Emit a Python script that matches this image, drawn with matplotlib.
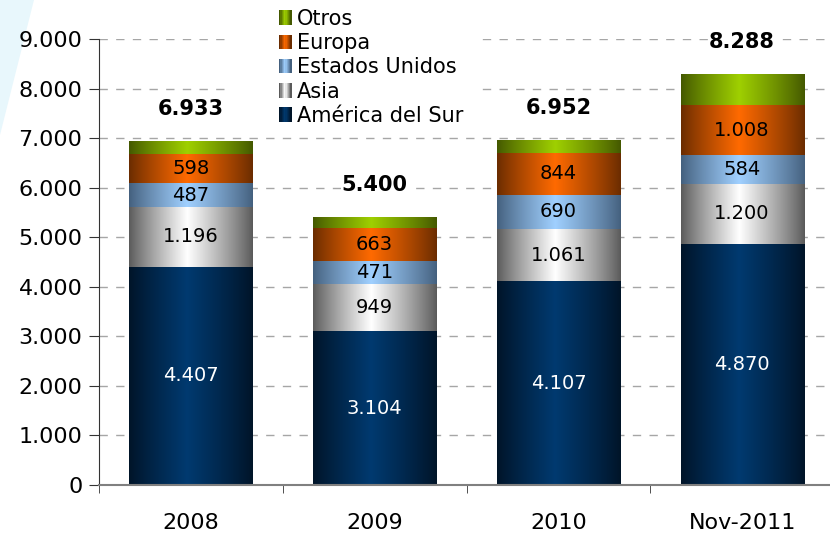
import numpy as np
import matplotlib
matplotlib.use("Agg")
import matplotlib.pyplot as plt
from matplotlib.patches import Rectangle, Polygon
from matplotlib.legend_handler import HandlerBase
from matplotlib.colors import to_rgb

plt.rcParams['font.family'] = ['DejaVu Sans']

categories = ["2008", "2009", "2010", "Nov-2011"]
series_names = ["América del Sur", "Asia", "Estados Unidos", "Europa", "Otros"]
america_sur = [4407, 3104, 4107, 4870]
asia = [1196, 949, 1061, 1200]
estados_unidos = [487, 471, 690, 584]
europa = [598, 663, 844, 1008]
otros = [245, 213, 250, 626]
totals = [6933, 5400, 6952, 8288]
yticks = [0, 1000, 2000, 3000, 4000, 5000, 6000, 7000, 8000, 9000]

series_values = [america_sur, asia, estados_unidos, europa, otros]
center_colors = ["#003a70", "#ffffff", "#a0d0ff", "#ff6a00", "#9fd000"]
edge_colors = ["#001428", "#5a5a5a", "#44607e", "#6a2c00", "#445800"]
label_colors = ["white", "black", "black", "black", None]


def fmt(v):
    return f"{v:,}".replace(",", ".")


def profile(n=200):
    u = np.linspace(0, 1, n)
    peak = 0.47
    t = np.where(u < peak, u / peak, (1 - u) / (1 - peak))
    return np.clip(t, 0, 1) ** 0.9


def gradient_img(c_center, c_edge, n=200):
    t = profile(n)
    cc = np.array(to_rgb(c_center))
    ce = np.array(to_rgb(c_edge))
    row = ce[None, :] + (cc - ce)[None, :] * t[:, None]
    return row[None, :, :]


W, H = 830, 533
fig = plt.figure(figsize=(W / 100, H / 100), dpi=100)
fig.patch.set_facecolor("white")

# decorative light band top-left
fig.patches.append(Polygon([(0, 1), (34 / W, 1), (0, 1 - 135 / H)], closed=True,
                           transform=fig.transFigure, facecolor="#e8f7fc",
                           edgecolor="none", zorder=-5))

ax = fig.add_axes([99 / W, (H - 485) / H, (834 - 99) / W, 446 / H])
ax.patch.set_alpha(0)
x = np.arange(len(categories))
width = 0.67
bottom = np.zeros(len(categories))
for vals, cc, ce, lc in zip(series_values, center_colors, edge_colors, label_colors):
    bars = ax.bar(x, vals, width=width, bottom=bottom, color=cc, linewidth=0, zorder=2)
    img = gradient_img(cc, ce)
    for b, v, bt in zip(bars, vals, bottom):
        x0 = b.get_x()
        im = ax.imshow(img, extent=[x0, x0 + b.get_width(), bt, bt + v],
                       aspect="auto", zorder=2.1, interpolation="bilinear")
        im.set_clip_path(b)
        if lc is not None:
            ax.text(b.get_x() + b.get_width() / 2, bt + v / 2, fmt(v),
                    ha="center", va="center", fontsize=14, color=lc, zorder=3)
    bottom = bottom + np.array(vals)

for xi, tot, top in zip(x, totals, bottom):
    ax.annotate(fmt(tot), (xi, top), xytext=(0, 16), textcoords="offset points",
                ha="center", va="bottom", fontsize=15, fontweight="bold", zorder=4,
                bbox=dict(facecolor="white", edgecolor="none", pad=0.5))

ax.set_xlim(-0.5, 3.5)
ax.set_ylim(0, 9000)
ax.set_aspect("auto")
ax.set_yticks(yticks)
ax.set_yticklabels([fmt(v) for v in yticks], fontsize=16)
ax.set_xticks(x)
ax.set_xticklabels(categories, fontsize=16)
ax.set_xticks(np.arange(-0.5, 3.5, 1.0), minor=True)
ax.tick_params(axis="x", which="major", length=0, pad=20)
ax.tick_params(axis="x", which="minor", length=6, direction="out", color="#333333")
ax.tick_params(axis="y", length=7, direction="out", pad=5, color="#333333")
ax.yaxis.grid(True, linestyle=(0, (6, 6)), color="#a6a6a6", linewidth=1.0, zorder=0.5)
ax.set_axisbelow(True)
for s in ["top", "right"]:
    ax.spines[s].set_visible(False)
ax.spines["left"].set_color("#333333")
ax.spines["bottom"].set_color("#808080")
ax.spines["bottom"].set_linewidth(1.5)

# white area behind the legend
ax.add_patch(Rectangle((230 / W, 1 - 127 / H), 250 / W, 122 / H, transform=fig.transFigure,
                       facecolor="white", edgecolor="none", zorder=1, clip_on=False))


class GradHandler(HandlerBase):
    def __init__(self, cc, ce):
        super().__init__()
        self.cc, self.ce = cc, ce

    def create_artists(self, legend, orig_handle, xdescent, ydescent, width, height,
                       fontsize, trans):
        n = 10
        t = profile(n)
        cc = np.array(to_rgb(self.cc))
        ce = np.array(to_rgb(self.ce))
        arts = []
        for i in range(n):
            col = ce + (cc - ce) * t[i]
            r = Rectangle((-xdescent + i * width / n, -ydescent), width / n + 0.3, height,
                          facecolor=col, edgecolor="none", transform=trans)
            arts.append(r)
        return arts


handles = [Rectangle((0, 0), 1, 1) for _ in series_names]
hmap = {h: GradHandler(cc, ce) for h, cc, ce in zip(handles, center_colors, edge_colors)}
leg = fig.legend(handles[::-1], series_names[::-1], handler_map=hmap,
                 loc="upper left", bbox_to_anchor=(279 / W, 1 - 9 / H),
                 frameon=False, fontsize=15, labelspacing=0.2, handlelength=0.6,
                 handleheight=0.7, handletextpad=0.25, borderpad=0, borderaxespad=0)

fig.savefig("out.png", dpi=100)
